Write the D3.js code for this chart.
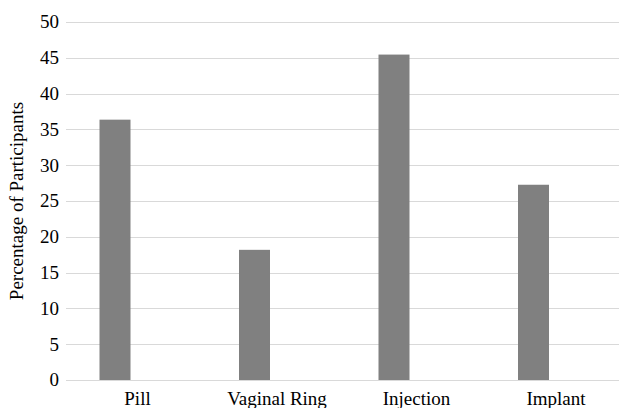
<!DOCTYPE html>
<html><head><meta charset="utf-8">
<script src="https://cdn.jsdelivr.net/npm/d3@7"></script>
</head><body style="margin:0">
<script>
const categories = ["Pill", "Vaginal Ring", "Injection", "Implant"];
const values = [36.36, 18.18, 45.45, 27.27];
const yTicks = [0, 5, 10, 15, 20, 25, 30, 35, 40, 45, 50];

const W = 619, H = 408;
const FONT = "Liberation Serif, Tinos, Times New Roman, FreeSerif, serif";
const FS = 19;
const svg = d3.select("body").append("svg").attr("width", W).attr("height", H)
  .attr("font-family", FONT).attr("font-size", FS);

const x0 = d3.scaleBand().domain(categories).range([67.75, 625.75]).padding(0);
const x1 = d3.scaleBand().domain(["value", "blank"]).range([31.75, 107.75]).paddingInner(0.311).paddingOuter(0);
const y = d3.scaleLinear().domain([0, 50]).range([380, 22]);

// gridlines
svg.append("g").selectAll("line").data(yTicks).join("line")
  .attr("x1", 66).attr("x2", W)
  .attr("y1", d => Math.round(y(d)) + 0.5).attr("y2", d => Math.round(y(d)) + 0.5)
  .attr("stroke", "#d9d9d9").attr("stroke-width", 1);

// y axis labels
svg.append("g").selectAll("text").data(yTicks).join("text")
  .attr("x", 59).attr("y", d => y(d)).attr("dy", "0.34em")
  .attr("text-anchor", "end")
  .attr("font-family", FONT).attr("font-size", FS)
  .text(d => d);

// bars
svg.append("g").selectAll("rect").data(categories).join("rect")
  .attr("x", (d) => x0(d) + x1("value"))
  .attr("width", x1.bandwidth())
  .attr("y", (d, i) => y(values[i]))
  .attr("height", (d, i) => y(0) - y(values[i]))
  .attr("fill", "#808080");

// x axis labels
svg.append("g").selectAll("text").data(categories).join("text")
  .attr("x", d => x0(d) + x0.bandwidth() / 2).attr("y", 405)
  .attr("text-anchor", "middle")
  .attr("font-family", FONT).attr("font-size", FS)
  .text(d => d);

// y title
svg.append("text")
  .attr("transform", "translate(23,201) rotate(-90)")
  .attr("text-anchor", "middle")
  .attr("font-family", FONT).attr("font-size", FS)
  .text("Percentage of Participants");
</script>
</body></html>
